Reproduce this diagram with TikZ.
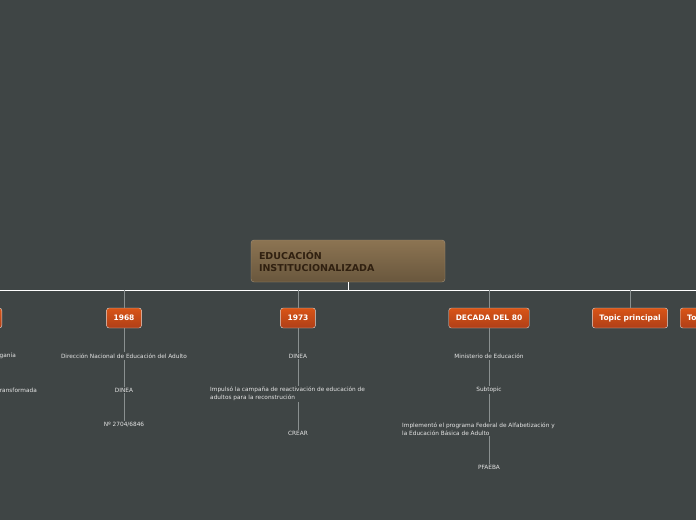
\documentclass[tikz,border=0pt]{standalone}
\usepackage{fontspec}
\setmainfont{DejaVu Sans}
\usetikzlibrary{positioning,shadings}
\definecolor{bgc}{HTML}{3F4545}
\definecolor{topicc}{HTML}{CF4A1C}
\definecolor{linec}{HTML}{8A9090}
\definecolor{rootc}{HTML}{8C7452}
\tikzset{topic/.style={draw=white!85!black,rounded corners=2.5pt,top color=topicc!80!orange,bottom color=topicc!85!black,text=white,font=\fontsize{7.5pt}{9pt}\selectfont\bfseries,minimum height=20pt,inner xsep=7pt},
         sub/.style={text=white!90!black,font=\fontsize{5.8pt}{7.5pt}\selectfont,inner sep=1pt},
         link/.style={draw=linec,line width=0.8pt}
}
\begin{document}
\begin{tikzpicture}[x=1pt,y=-1pt]
  \fill[bgc] (0,0) rectangle (696,520);
  \useasboundingbox (0,0) rectangle (696,520);
  \clip (0,0) rectangle (696,520);
  \node[draw=rootc!80!white,rounded corners=3pt,top color=rootc,bottom color=rootc!75!black,minimum width=194pt,minimum height=42pt,text width=178pt,align=left,text=brown!25!black,font=\fontsize{9.5pt}{11.5pt}\selectfont\bfseries] (root) at (348,261) {EDUCACIÓN\\INSTITUCIONALIZADA};
  \coordinate (bar) at (348,290);
  \draw[white,line width=1pt] (-10,290) -- (710,290);
  \draw[white,line width=1pt] (root) -- (bar);
  % topics
  \node[topic,anchor=east] (t0) at (2,318) {Topic};
  \node[topic] (t1) at (124,318) {1968};
  \node[topic] (t2) at (298,318) {1973};
  \node[topic] (t3) at (489,318) {DECADA DEL 80};
  \node[topic] (t4) at (630,318) {Topic principal};
  \node[topic,anchor=west] (t5) at (680,318) {Topic principal};
  \foreach \t/\x in {t1/124,t2/298,t3/489,t4/630}
    \draw[link] (\x,290) -- (\t);
  % left cut
  \node[sub,anchor=east] (a1) at (17,356) {Onganía};
  \node[sub,anchor=east] (a2) at (38,390) {transformada};
  % 1968
  \node[sub] (b1) at (124,356) {Dirección Nacional de Educación del Adulto};
  \node[sub] (b2) at (124,390) {DINEA};
  \node[sub] (b3) at (124,425) {Nº 2704/6846};
  \draw[link] (t1) -- (b1);
  \draw[link] (b1) -- (b2);
  \draw[link] (b2) -- (b3);
  % 1973
  \node[sub] (c1) at (298,356) {DINEA};
  \node[sub,align=left,anchor=west] (c2) at (209,394) {Impulsó la campaña de reactivación de educación de\\adultos para la reconstrución};
  \node[sub] (c3) at (298,433) {CREAR};
  \draw[link] (c1) -- (c1 |- c2.north);
  \draw[link] (t2) -- (c1);
  \draw[link] (c3 |- c2.south) -- (c3);
  % 80
  \node[sub] (d1) at (489,356) {Ministerio de Educación};
  \node[sub] (d2) at (489,390) {Subtopic};
  \node[sub,align=left,anchor=west] (d3) at (401,429) {Implementó el programa Federal de Alfabetización y\\la Educación Básica de Adulto};
  \node[sub] (d4) at (489,467) {PFAEBA};
  \draw[link] (t3) -- (d1);
  \draw[link] (d1) -- (d2);
  \draw[link] (d2) -- (d2 |- d3.north);
  \draw[link] (d4 |- d3.south) -- (d4);
\end{tikzpicture}
\end{document}
